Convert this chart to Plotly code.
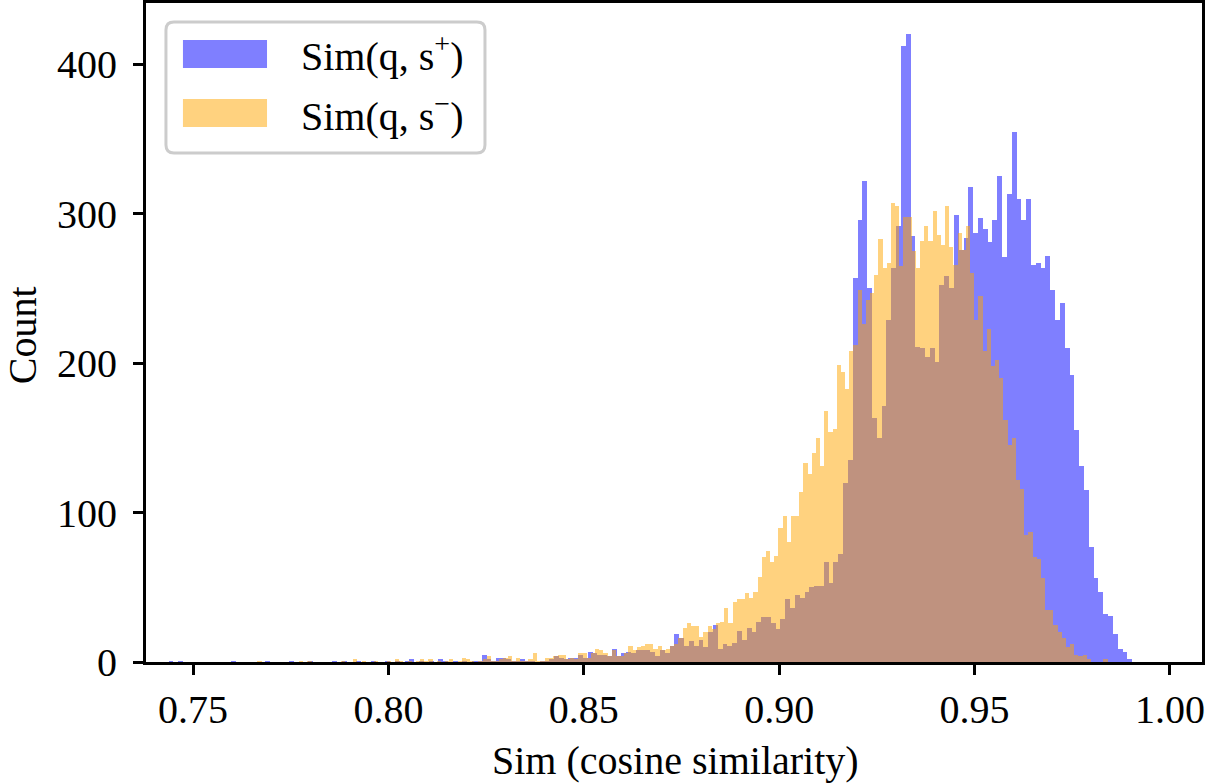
import plotly.graph_objects as go

# ---- data ----
blue_start = 0.74250      # left edge of first bin for Sim(q, s+)
blue_width = 0.0012329
blue_counts = [
    0, 1, 0, 1, 0, 0, 0, 0, 0, 0,
    0, 0, 0, 0, 1, 0, 0, 0, 0, 0,
    0, 1, 0, 0, 0, 0, 1, 0, 0, 0,
    1, 0, 0, 0, 0, 1, 0, 1, 0, 0,
    1, 0, 0, 1, 0, 0, 1, 0, 1, 0,
    1, 2, 0, 1, 0, 1, 0, 2, 1, 0,
    1, 0, 1, 0, 1, 1, 5, 2, 1, 3,
    3, 2, 1, 1, 2, 1, 1, 0, 1, 1,
    2, 4, 3, 2, 3, 3, 5, 3, 7, 6,
    5, 5, 4, 9, 4, 6, 7, 6, 8, 8,
    8, 7, 4, 8, 6, 11, 19, 16, 11, 14,
    11, 15, 10, 20, 25, 9, 12, 11, 13, 21,
    15, 23, 20, 27, 30, 30, 26, 22, 29, 42,
    36, 45, 43, 47, 50, 51, 51, 67, 53, 67,
    72, 120, 135, 257, 296, 322, 250, 163, 150, 171,
    229, 264, 292, 412, 420, 285, 211, 210, 204, 210,
    201, 252, 258, 250, 299, 276, 284, 318, 287, 297,
    290, 281, 296, 325, 271, 313, 355, 310, 296, 310,
    266, 267, 264, 272, 249, 229, 240, 210, 192, 155,
    131, 115, 77, 56, 47, 32, 31, 19, 9, 7,
    2,
]

orange_start = 0.76650    # left edge of first bin for Sim(q, s-)
orange_width = 0.0010663
orange_counts = [
    1, 0, 0, 0, 0, 0, 0, 0, 0, 0,
    1, 0, 1, 0, 0, 0, 0, 0, 0, 0,
    1, 0, 0, 2, 0, 1, 0, 0, 1, 0,
    0, 1, 0, 2, 1, 0, 1, 0, 1, 2,
    1, 2, 0, 1, 0, 1, 2, 0, 1, 3,
    2, 1, 0, 1, 2, 4, 1, 1, 2, 3,
    4, 1, 3, 1, 1, 2, 6, 1, 1, 3,
    3, 4, 5, 5, 2, 3, 2, 6, 6, 3,
    6, 9, 8, 6, 4, 8, 4, 4, 6, 11,
    8, 10, 11, 12, 12, 9, 11, 8, 9, 11,
    12, 16, 23, 26, 24, 24, 17, 20, 24, 22,
    26, 27, 36, 26, 40, 42, 42, 46, 43, 47,
    57, 70, 74, 67, 71, 90, 98, 80, 98, 98,
    114, 133, 126, 140, 150, 131, 168, 154, 156, 199,
    194, 183, 208, 212, 249, 226, 242, 247, 259, 283,
    264, 267, 307, 305, 265, 298, 298, 275, 264, 282,
    292, 282, 302, 286, 279, 305, 278, 266, 287, 276,
    292, 260, 229, 245, 208, 223, 198, 202, 190, 162,
    145, 150, 122, 116, 85, 87, 70, 69, 56, 35,
    35, 25, 20, 16, 10, 12, 5, 4, 5, 2,
    0, 0, 0, 2,
]

x_ticks = [0.75, 0.80, 0.85, 0.90, 0.95, 1.00]
x_tick_labels = ["0.75", "0.80", "0.85", "0.90", "0.95", "1.00"]
y_ticks = [0, 100, 200, 300, 400]
y_tick_labels = ["0", "100", "200", "300", "400"]

labels = ["Sim(q, s<sup>+</sup>)", "Sim(q, s<sup>\u2212</sup>)"]
x_title = "Sim (cosine similarity)"
y_title = "Count"

BLUE = "rgba(0,0,255,0.5)"
ORANGE = "rgba(255,165,0,0.5)"
FONT = "Liberation Serif, Times New Roman, serif"

blue_x = [blue_start + (i + 0.5) * blue_width for i in range(len(blue_counts))]
orange_x = [orange_start + (i + 0.5) * orange_width for i in range(len(orange_counts))]

fig = go.Figure()
fig.add_trace(go.Bar(x=blue_x, y=blue_counts, width=blue_width,
                     marker=dict(color=BLUE, line=dict(width=0)),
                     name=labels[0], showlegend=False))
fig.add_trace(go.Bar(x=orange_x, y=orange_counts, width=orange_width,
                     marker=dict(color=ORANGE, line=dict(width=0)),
                     name=labels[1], showlegend=False))

fig.update_layout(
    width=1206, height=784,
    margin=dict(l=146, r=4, t=3, b=122, autoexpand=False),
    paper_bgcolor="white", plot_bgcolor="white",
    barmode="overlay", bargap=0,
    font=dict(family=FONT, size=40, color="black"),
    showlegend=False,
)
fig.update_xaxes(range=[0.737973, 1.00819], tickvals=x_ticks, ticktext=x_tick_labels,
                 showline=True, mirror=True, linecolor="black", linewidth=3,
                 ticks="outside", ticklen=10, tickwidth=3, tickcolor="black",
                 showgrid=False, zeroline=False, ticklabeloverflow="allow",
                 automargin=False,
                 tickfont=dict(family=FONT, size=40))
fig.update_yaxes(range=[0, 441], tickvals=y_ticks, ticktext=y_tick_labels,
                 showline=True, mirror=True, linecolor="black", linewidth=3,
                 ticks="outside", ticklen=10, tickwidth=3, tickcolor="black",
                 showgrid=False, zeroline=False, ticklabelstandoff=8,
                 ticklabeloverflow="allow", automargin=False,
                 tickfont=dict(family=FONT, size=40))

# axis titles
fig.add_annotation(text=x_title, xref="paper", yref="paper", x=0.501, y=-0.150,
                   showarrow=False, xanchor="center", yanchor="middle",
                   font=dict(family=FONT, size=40))
fig.add_annotation(text=y_title, xref="paper", yref="paper", x=-0.1174, y=0.496,
                   showarrow=False, xanchor="center", yanchor="middle", textangle=-90,
                   font=dict(family=FONT, size=40))

# legend drawn as shapes + text (matplotlib-style rounded frame)
x0, x1, y0, y1 = 0.0189, 0.3210, 0.7724, 0.9712
rx, ry = 0.0076, 0.0121
path = (f"M {x0+rx},{y0} L {x1-rx},{y0} Q {x1},{y0} {x1},{y0+ry} "
        f"L {x1},{y1-ry} Q {x1},{y1} {x1-rx},{y1} L {x0+rx},{y1} "
        f"Q {x0},{y1} {x0},{y1-ry} L {x0},{y0+ry} Q {x0},{y0} {x0+rx},{y0} Z")
fig.add_shape(type="path", path=path, xref="paper", yref="paper",
              line=dict(color="#cccccc", width=3), fillcolor="rgba(255,255,255,0.8)")
patch_y = [(0.9014, 0.9439), (0.8118, 0.8543)]
for (py0, py1), col, lab in zip(patch_y, [BLUE, ORANGE], labels):
    fig.add_shape(type="rect", xref="paper", yref="paper", x0=0.0350, x1=0.1146,
                  y0=py0, y1=py1, line=dict(width=0), fillcolor=col)
    fig.add_annotation(text=lab, xref="paper", yref="paper", x=0.1449, y=(py0 + py1) / 2,
                       showarrow=False, xanchor="left", yanchor="middle",
                       font=dict(family=FONT, size=40))

fig.write_html("out.html")
